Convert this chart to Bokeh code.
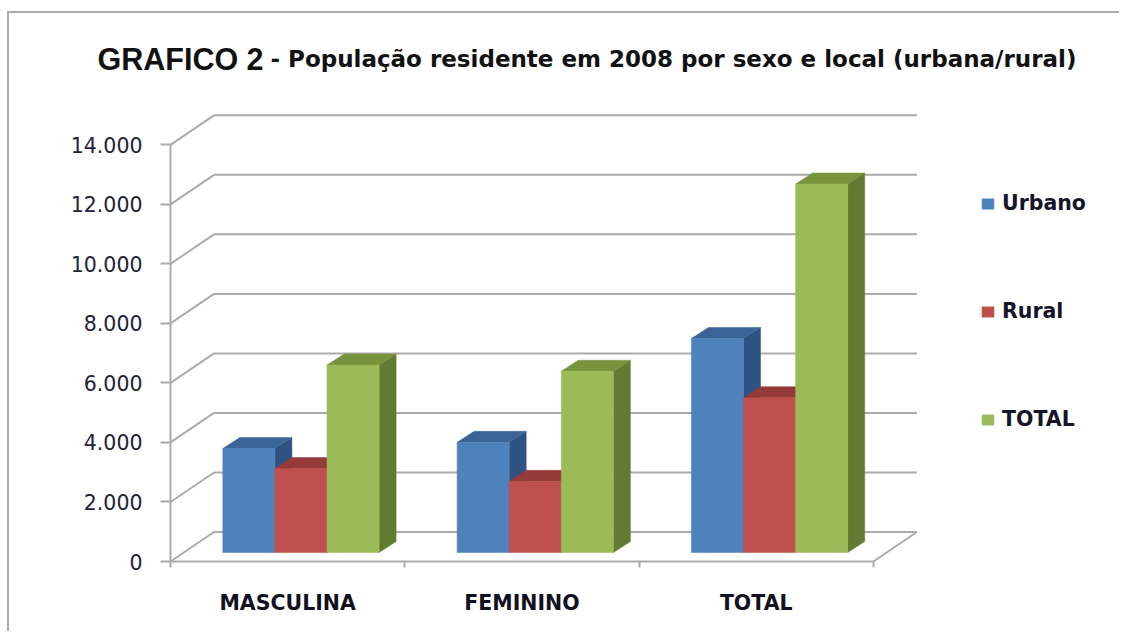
from bokeh.plotting import figure
from bokeh.models import Range1d, FixedTicker, Legend, LegendItem, Label
from bokeh.embed import file_html
from bokeh.resources import INLINE

# ---------------- data ----------------
categories = ["MASCULINA", "FEMININO", "TOTAL"]
series_names = ["Urbano", "Rural", "TOTAL"]
urbano = [3490, 3700, 7190]
rural = [2820, 2390, 5200]
total = [6300, 6090, 12380]
y_ticks = [0, 2000, 4000, 6000, 8000, 10000, 12000, 14000]
y_tick_labels = ["0", "2.000", "4.000", "6.000", "8.000", "10.000", "12.000", "14.000"]
title_main = "GRAFICO 2"
title_rest = "- População residente em 2008 por sexo e local (urbana/rural)"

# ---------------- styling / geometry ----------------
front_colors = ["#4F81BD", "#C0504D", "#9BBB59"]
top_colors = ["#3A6497", "#943B39", "#77933C"]
side_colors = ["#2E5282", "#8A3230", "#627A31"]
GRID = "#ABABAB"

ORG_X, ORG_Y = 9, 13            # canvas origin on page
AXIS_X, FLOOR_Y = 170, 561      # page position of value axis / floor front
W, H = 1112, 620
PX_CAT = 234.3                  # pixels per category
PX_UNIT = 416.7 / 14000.0       # pixels per value unit
x_start = (ORG_X - AXIS_X) / PX_CAT
x_end = (ORG_X + W - AXIS_X) / PX_CAT
y_start = -(ORG_Y + H - FLOOR_Y) / PX_UNIT
y_end = (FLOOR_Y - ORG_Y) / PX_UNIT

DX = 43.5 / PX_CAT              # wall depth (x)
DY = 29.5 / PX_UNIT             # wall depth (y)
FX = 13.3 / PX_CAT              # bar front plane offset
FY = 9.0 / PX_UNIT
BDX = 17.0 / PX_CAT             # bar depth
BDY = 11.0 / PX_UNIT
BW = 52.1 / PX_CAT              # bar width

p = figure(width=W, height=H, output_backend="svg", toolbar_location=None,
           x_range=Range1d(x_start, x_end), y_range=Range1d(y_start, y_end),
           min_border_left=0, min_border_right=0, min_border_top=0,
           min_border_bottom=0)
p.styles = {"border-top": "2px solid #ABABAB", "border-left": "2px solid #ABABAB"}
p.margin = (11, 0, 0, 7)
p.grid.visible = False
p.outline_line_color = None
p.background_fill_color = "white"
p.border_fill_color = "white"

# ---------------- walls ----------------
ncat = len(categories)
wall_xs, wall_ys = [], []
for v in y_ticks:
    wall_xs.append([0, DX])               # side wall diagonal
    wall_ys.append([v, v + DY])
    wall_xs.append([DX, ncat + DX])       # back wall gridline
    wall_ys.append([v + DY, v + DY])
wall_xs.append([ncat, ncat + DX])         # floor right edge
wall_ys.append([0, DY])
p.multi_line(wall_xs, wall_ys, line_color=GRID, line_width=2)

# ---------------- bars ----------------
values = [urbano, rural, total]
legend_items = []
for j, vals in enumerate(values):
    centers = [i + 0.5 + (j - 1) * BW + FX for i in range(ncat)]
    lefts = [c - BW / 2 for c in centers]
    rights = [c + BW / 2 for c in centers]
    tops = [FY + v for v in vals]
    side_xs = [[r, r + BDX, r + BDX, r] for r in rights]
    side_ys = [[FY, FY + BDY, t + BDY, t] for t in tops]
    top_xs = [[l, r, r + BDX, l + BDX] for l, r in zip(lefts, rights)]
    top_ys = [[t, t, t + BDY, t + BDY] for t in tops]
    p.patches(side_xs, side_ys, fill_color=side_colors[j], line_color=side_colors[j], line_width=0.5)
    p.patches(top_xs, top_ys, fill_color=top_colors[j], line_color=top_colors[j], line_width=0.5)
    r = p.vbar(x=centers, width=BW, bottom=FY, top=tops,
               fill_color=front_colors[j], line_color=front_colors[j], line_width=0.5)
    legend_items.append(LegendItem(label=series_names[j], renderers=[r]))

legend = Legend(items=legend_items, location=(971, 130 + (ORG_Y + H - FLOOR_Y)),
                orientation="vertical",
                border_line_color=None, background_fill_alpha=0, padding=0, margin=0,
                spacing=84, glyph_width=15, glyph_height=13, label_height=24,
                label_standoff=7, label_text_font="DejaVu Sans",
                label_text_font_style="bold", label_text_font_size="20.5px",
                label_text_color="#15152A")
p.add_layout(legend)

# ---------------- axes ----------------
ya = p.yaxis[0]
ya.fixed_location = 0
ya.ticker = FixedTicker(ticks=y_ticks)
ya.major_label_overrides = {t: s for t, s in zip(y_ticks, y_tick_labels)}
ya.bounds = (0, 14000)
ya.axis_line_color = GRID
ya.axis_line_width = 2
ya.major_tick_line_color = GRID
ya.major_tick_line_width = 2
ya.major_tick_out = 10
ya.major_tick_in = 0
ya.minor_tick_line_color = None
ya.major_label_standoff = 18
ya.major_label_text_font = "DejaVu Sans"
ya.major_label_text_font_size = "20.5px"
ya.major_label_text_color = "#22223A"

xa = p.xaxis[0]
xa.fixed_location = 0
xa.ticker = FixedTicker(ticks=[i + 0.5 for i in range(ncat)], minor_ticks=list(range(ncat + 1)))
xa.major_label_overrides = {i + 0.5: c for i, c in enumerate(categories)}
xa.bounds = (0, ncat)
xa.axis_line_color = GRID
xa.axis_line_width = 2
xa.major_tick_line_color = None
xa.minor_tick_line_color = GRID
xa.minor_tick_line_width = 2
xa.minor_tick_out = 6
xa.minor_tick_in = 0
xa.major_label_standoff = 23
xa.major_label_text_font = "DejaVu Sans"
xa.major_label_text_font_style = "bold"
xa.major_label_text_font_size = "20.5px"
xa.major_label_text_color = "#111122"

# ---------------- title ----------------
title_y = 503 + (ORG_Y + H - FLOOR_Y)
p.add_layout(Label(x=97 - ORG_X, y=title_y, x_units="screen", y_units="screen",
                   text=title_main, text_font="Liberation Sans", text_font_style="bold",
                   text_font_size="30.5px", text_color="#111111", text_baseline="alphabetic"))
p.add_layout(Label(x=270 - ORG_X, y=title_y, x_units="screen", y_units="screen",
                   text=title_rest, text_font="DejaVu Sans", text_font_style="bold",
                   text_font_size="23px", text_color="#111111", text_baseline="alphabetic"))

open("out.html", "w").write(file_html(p, INLINE))
